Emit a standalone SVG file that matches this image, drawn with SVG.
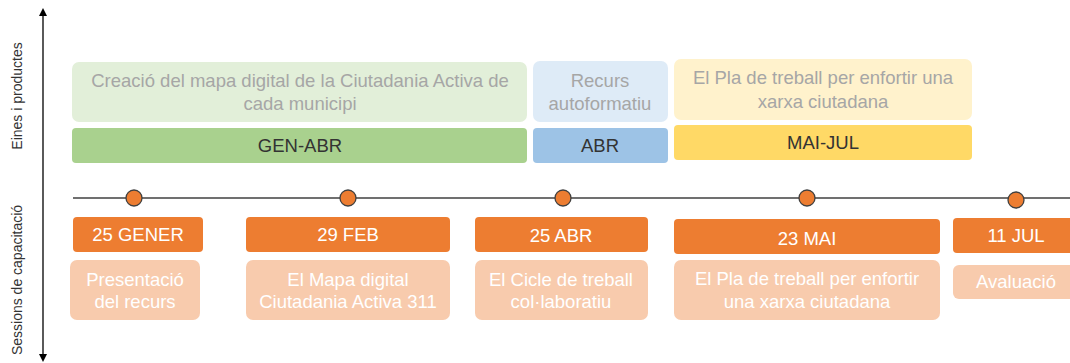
<svg xmlns="http://www.w3.org/2000/svg" width="1070" height="363" viewBox="0 0 1070 363">
<defs>
<style>
text{font-family:"Liberation Sans",Arial,sans-serif;font-size:18.5px;text-anchor:middle}
.ax{font-size:14px;fill:#333333}
.tl{fill:#a6a6a6}
.td{fill:#333333}
.tw{fill:#ffffff}
.dot{fill:#ed7d31;stroke:#404040;stroke-width:1.3}
</style>
<marker id="ah" markerWidth="8" markerHeight="8" refX="4" refY="4" orient="auto" markerUnits="userSpaceOnUse">
<path d="M0,0 L8,4 L0,8 z" fill="#000"/>
</marker>
</defs>
<rect width="1070" height="363" fill="#fff"/>
<g id="connectors">
<line x1="43" y1="186" x2="43" y2="12" stroke="#000" stroke-width="1.3" marker-end="url(#ah)"/>
<line x1="43" y1="186" x2="43" y2="358" stroke="#000" stroke-width="1.3" marker-end="url(#ah)"/>
<line x1="73" y1="198" x2="1070" y2="198" stroke="#404040" stroke-width="1.3"/>
</g>
<g id="axis-labels">
<text class="ax" transform="translate(22,96) rotate(-90)">Eines i productes</text>
<text class="ax" transform="translate(22,280) rotate(-90)">Sessions de capacitació</text>
</g>
<g id="prod1">
<rect x="72" y="62" width="455" height="60" rx="7" fill="#e2efd9"/>
<text class="tl" x="300" y="87">Creació del mapa digital de la Ciutadania Activa de</text>
<text class="tl" x="300" y="110">cada municipi</text>
<rect x="72" y="128" width="455" height="35" rx="4" fill="#a9d18e"/>
<text class="td" x="300" y="152">GEN-ABR</text>
</g>
<g id="prod2">
<rect x="533" y="61" width="135" height="61" rx="7" fill="#deebf7"/>
<text class="tl" x="600" y="87">Recurs</text>
<text class="tl" x="600" y="110">autoformatiu</text>
<rect x="533" y="128" width="135" height="35" rx="4" fill="#9dc3e6"/>
<text class="td" x="600" y="152">ABR</text>
</g>
<g id="prod3">
<rect x="674" y="59" width="298" height="61" rx="7" fill="#fff2cc"/>
<text class="tl" x="823" y="84">El Pla de treball per enfortir una</text>
<text class="tl" x="823" y="108">xarxa ciutadana</text>
<rect x="674" y="125" width="298" height="35" rx="4" fill="#ffd966"/>
<text class="td" x="823" y="149">MAI-JUL</text>
</g>
<g id="dots">
<circle class="dot" cx="134" cy="198" r="8"/>
<circle class="dot" cx="348" cy="198" r="8"/>
<circle class="dot" cx="563" cy="198" r="8"/>
<circle class="dot" cx="807" cy="198" r="8"/>
<circle class="dot" cx="1016" cy="200" r="8"/>
</g>
<g id="s1">
<rect x="73" y="217" width="130" height="35" rx="4" fill="#ed7d31"/>
<text class="tw" x="138" y="241">25 GENER</text>
<rect x="70" y="260" width="130" height="60" rx="7" fill="#f8cbad"/>
<text class="tw" x="135" y="286">Presentació</text>
<text class="tw" x="135" y="308">del recurs</text>
</g>
<g id="s2">
<rect x="246" y="217" width="204" height="35" rx="4" fill="#ed7d31"/>
<text class="tw" x="348" y="241">29 FEB</text>
<rect x="246" y="260" width="204" height="60" rx="7" fill="#f8cbad"/>
<text class="tw" x="348" y="286">El Mapa digital</text>
<text class="tw" x="348" y="308">Ciutadania Activa 311</text>
</g>
<g id="s3">
<rect x="475" y="217" width="173" height="35" rx="4" fill="#ed7d31"/>
<text class="tw" x="561" y="242">25 ABR</text>
<rect x="475" y="260" width="173" height="60" rx="7" fill="#f8cbad"/>
<text class="tw" x="561" y="286">El Cicle de treball</text>
<text class="tw" x="561" y="308">col·laboratiu</text>
</g>
<g id="s4">
<rect x="674" y="219" width="266" height="35" rx="4" fill="#ed7d31"/>
<text class="tw" x="807" y="245">23 MAI</text>
<rect x="674" y="260" width="266" height="60" rx="7" fill="#f8cbad"/>
<text class="tw" x="807" y="285">El Pla de treball per enfortir</text>
<text class="tw" x="807" y="308">una xarxa ciutadana</text>
</g>
<g id="s5">
<rect x="953" y="218" width="125" height="35" rx="4" fill="#ed7d31"/>
<text class="tw" x="1016" y="242">11 JUL</text>
<rect x="953" y="265" width="125" height="34" rx="6" fill="#f8cbad"/>
<text class="tw" x="1016" y="288">Avaluació</text>
</g>
</svg>
